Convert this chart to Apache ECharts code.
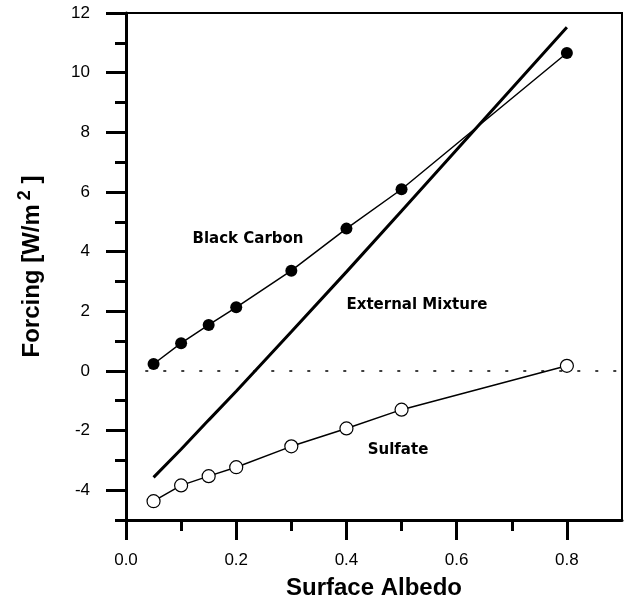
<!DOCTYPE html>
<html>
<head>
<meta charset="utf-8">
<script src="https://cdn.jsdelivr.net/npm/echarts@6/dist/echarts.min.js"></script>
<style>
  html, body { margin: 0; padding: 0; background: #fff; }
  #chart { width: 639px; height: 605px; }
</style>
</head>
<body>
<div id="chart"></div>
<script>
var albedo = [0.05, 0.1, 0.15, 0.2, 0.3, 0.4, 0.5, 0.8];
var blackCarbon = [0.23, 0.93, 1.54, 2.13, 3.36, 4.77, 6.09, 10.66];
var sulfate = [-4.37, -3.84, -3.53, -3.23, -2.53, -1.93, -1.3, 0.17];
var externalMixture = [-3.57, -2.63, -1.65, -0.68, 1.31, 3.32, 5.36, 11.52];
var zeroLine = [[0.035, 0], [0.9, 0]];

var xMajor = [0, 0.2, 0.4, 0.6, 0.8];
var xMinor = [0.1, 0.3, 0.5, 0.7];
var yMajor = [-4, -2, 0, 2, 4, 6, 8, 10, 12];
var yMinor = [-5, -3, -1, 1, 3, 5, 7, 9, 11];

var fontFam = '"Liberation Sans", Arial, sans-serif';
var labelFont = '"DejaVu Sans", sans-serif';

function pairs(xs, ys) {
    return xs.map(function(x, i) { return [x, ys[i]]; });
}

var chart = echarts.init(document.getElementById('chart'), null, { renderer: 'canvas' });

var option = {
    backgroundColor: '#fff',
    animation: false,
    textStyle: { fontFamily: fontFam, color: '#000' },
    grid: {
        left: 126, right: 17, top: 13, bottom: 84,
        show: true, borderColor: '#000', borderWidth: 2
    },
    xAxis: [{
        type: 'value', min: 0, max: 0.9, position: 'bottom',
        axisLine: { show: true, onZero: false, lineStyle: { color: '#000', width: 3 } },
        axisTick: { show: true, customValues: xMajor, length: 20, lineStyle: { color: '#000', width: 3 } },
        axisLabel: {
            customValues: xMajor, margin: 32, fontSize: 17, color: '#000', fontFamily: fontFam,
            formatter: function(v) { return v.toFixed(1); }
        },
        splitLine: { show: false },
        name: 'Surface Albedo', nameLocation: 'middle', nameGap: 56,
        nameTextStyle: { fontSize: 24, fontWeight: 'bold', color: '#000', fontFamily: fontFam }
    }, {
        type: 'value', min: 0, max: 0.9, position: 'bottom',
        axisLine: { show: false, onZero: false },
        axisTick: { show: true, customValues: xMinor, length: 11, lineStyle: { color: '#000', width: 3 } },
        axisLabel: { show: false },
        splitLine: { show: false }
    }],
    yAxis: [{
        type: 'value', min: -5, max: 12, position: 'left',
        axisLine: { show: true, onZero: false, lineStyle: { color: '#000', width: 3 } },
        axisTick: { show: true, customValues: yMajor, length: 20, lineStyle: { color: '#000', width: 3 } },
        axisLabel: { customValues: yMajor, margin: 36, fontSize: 17, color: '#000', fontFamily: fontFam },
        splitLine: { show: false },
        name: '{a|Forcing [W/m}{s|2}{a| ]}', nameLocation: 'middle', nameGap: 78,
        nameTextStyle: {
            fontSize: 24, fontWeight: 'bold', color: '#000', fontFamily: fontFam,
            rich: {
                a: { fontSize: 24, fontWeight: 'bold', fontFamily: fontFam, color: '#000' },
                s: { fontSize: 18, fontWeight: 'bold', fontFamily: fontFam, color: '#000', padding: [0, 0, 14, 4] }
            }
        }
    }, {
        type: 'value', min: -5, max: 12, position: 'left',
        axisLine: { show: false, onZero: false },
        axisTick: { show: true, customValues: yMinor, length: 11, lineStyle: { color: '#000', width: 3 } },
        axisLabel: { show: false },
        splitLine: { show: false }
    }],
    series: [{
        name: 'zero', type: 'line', data: zeroLine, showSymbol: false, silent: true,
        lineStyle: { color: '#000', width: 1.5, type: [3, 15] }
    }, {
        name: 'External Mixture', type: 'line', data: pairs(albedo, externalMixture),
        showSymbol: false, lineStyle: { color: '#000', width: 3 }
    }, {
        name: 'Black Carbon', type: 'line', data: pairs(albedo, blackCarbon),
        symbol: 'circle', symbolSize: 12, showAllSymbol: true,
        itemStyle: { color: '#000' }, lineStyle: { color: '#000', width: 1.5 }
    }, {
        name: 'Sulfate', type: 'line', data: pairs(albedo, sulfate),
        symbol: 'circle', symbolSize: 13, showAllSymbol: true,
        itemStyle: { color: '#fff', borderColor: '#000', borderWidth: 1.2 },
        lineStyle: { color: '#000', width: 1.5 }
    }],
    graphic: [{
        type: 'text', x: 248, y: 239,
        style: { text: 'Black Carbon', font: 'bold 15px ' + labelFont, fill: '#000', align: 'center', verticalAlign: 'middle' }
    }, {
        type: 'text', x: 417, y: 305,
        style: { text: 'External Mixture', font: 'bold 15px ' + labelFont, fill: '#000', align: 'center', verticalAlign: 'middle' }
    }, {
        type: 'text', x: 398, y: 450,
        style: { text: 'Sulfate', font: 'bold 15px ' + labelFont, fill: '#000', align: 'center', verticalAlign: 'middle' }
    }]
};

chart.setOption(option);
</script>
</body>
</html>
